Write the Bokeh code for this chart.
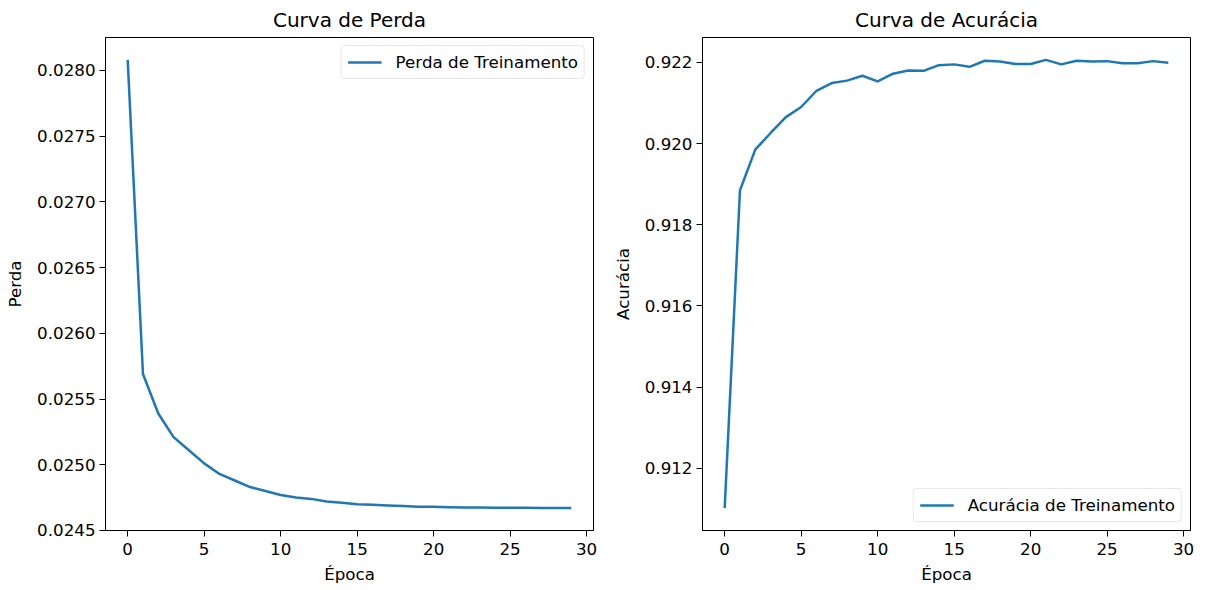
from bokeh.plotting import figure
from bokeh.layouts import row
from bokeh.models import Range1d, FixedTicker, PrintfTickFormatter, Legend, LegendItem
from bokeh.embed import file_html
from bokeh.resources import INLINE

epochs = list(range(30))
loss = [0.02808, 0.02569, 0.02539, 0.02521, 0.02511, 0.02501, 0.02493, 0.02488,
        0.02483, 0.02480, 0.02477, 0.02475, 0.02474, 0.02472, 0.02471, 0.02470,
        0.024695, 0.02469, 0.024685, 0.02468, 0.02468, 0.024677, 0.024675, 0.024675,
        0.024673, 0.024673, 0.024672, 0.024671, 0.02467, 0.02467]
acc = [0.91102, 0.91885, 0.91985, 0.92026, 0.92065, 0.92090, 0.92130, 0.92149,
       0.92155, 0.92167, 0.92153, 0.92172, 0.92180, 0.92179, 0.92193, 0.92195,
       0.92189, 0.92204, 0.92202, 0.92196, 0.92196, 0.92206, 0.92195, 0.92204,
       0.92202, 0.92203, 0.92198, 0.92198, 0.92203, 0.92199]
x_ticks = [0, 5, 10, 15, 20, 25, 30]
loss_ticks = [0.0245, 0.0250, 0.0255, 0.0260, 0.0265, 0.0270, 0.0275, 0.0280]
acc_ticks = [0.912, 0.914, 0.916, 0.918, 0.920, 0.922]

FONT = "DejaVu Sans"
BLUE = "#1f77b4"
TXT = "16.7px"


def pad_range(vals):
    lo, hi = min(vals), max(vals)
    m = 0.05 * (hi - lo)
    return Range1d(lo - m, hi + m)


def make(title, ys, yticks, yfmt, ylabel, label, loc, width, bl, br):
    p = figure(width=width, height=589, output_backend="svg", toolbar_location=None,
               x_range=pad_range(epochs), y_range=pad_range(ys),
               min_border_left=bl, min_border_right=br, min_border_top=36,
               min_border_bottom=59)
    p.title.text = title
    p.title.text_font = FONT
    p.title.text_font_size = "20px"
    p.title.text_font_style = "normal"
    p.title.align = "center"
    p.title.text_color = "#000000"
    p.title.standoff = 11
    p.grid.visible = False
    p.outline_line_color = "#000000"
    p.outline_line_width = 1
    p.outline_line_alpha = 1
    p.background_fill_color = "white"
    p.border_fill_color = "white"
    for ax in (p.xaxis[0], p.yaxis[0]):
        ax.axis_line_color = "#000000"
        ax.major_tick_line_color = "#000000"
        ax.major_tick_out = 6
        ax.major_tick_in = 0
        ax.minor_tick_line_color = None
        ax.major_label_text_font = FONT
        ax.major_label_text_font_size = TXT
        ax.major_label_text_color = "#000000"
        ax.axis_label_text_font = FONT
        ax.axis_label_text_font_size = TXT
        ax.axis_label_text_font_style = "normal"
        ax.axis_label_text_color = "#000000"
    p.xaxis.ticker = FixedTicker(ticks=x_ticks)
    p.yaxis.ticker = FixedTicker(ticks=yticks)
    p.yaxis.formatter = PrintfTickFormatter(format=yfmt)
    p.xaxis.axis_label = "Época"
    p.yaxis.axis_label = ylabel
    p.xaxis.major_label_standoff = 6
    p.yaxis.major_label_standoff = 4
    p.xaxis.axis_label_standoff = 6
    p.yaxis.axis_label_standoff = 9
    r = p.line(epochs, ys, line_color=BLUE, line_width=2.5, line_join="round")
    leg = Legend(items=[LegendItem(label=label, renderers=[r])], location=loc)
    leg.label_text_font = FONT
    leg.label_text_font_size = TXT
    leg.label_text_color = "#000000"
    leg.border_line_color = "#d0d0d0"
    leg.border_line_width = 1
    leg.background_fill_color = "white"
    leg.background_fill_alpha = 0.8
    leg.glyph_width = 34
    leg.glyph_height = 18
    leg.label_height = 18
    leg.label_standoff = 14
    leg.padding = 6
    leg.margin = 8
    if "border_radius" in Legend.properties():
        leg.border_radius = 4
    p.add_layout(leg)
    return p


p1 = make("Curva de Perda", loss, loss_ticks, "%.4f", "Perda",
          "Perda de Treinamento", "top_right", 608, 105, 15)
p2 = make("Curva de Acurácia", acc, acc_ticks, "%.3f", "Acurácia",
          "Acurácia de Treinamento", "bottom_right", 589, 94, 7)

layout = row(p1, p2)
open("out.html", "w").write(file_html(layout, INLINE))
